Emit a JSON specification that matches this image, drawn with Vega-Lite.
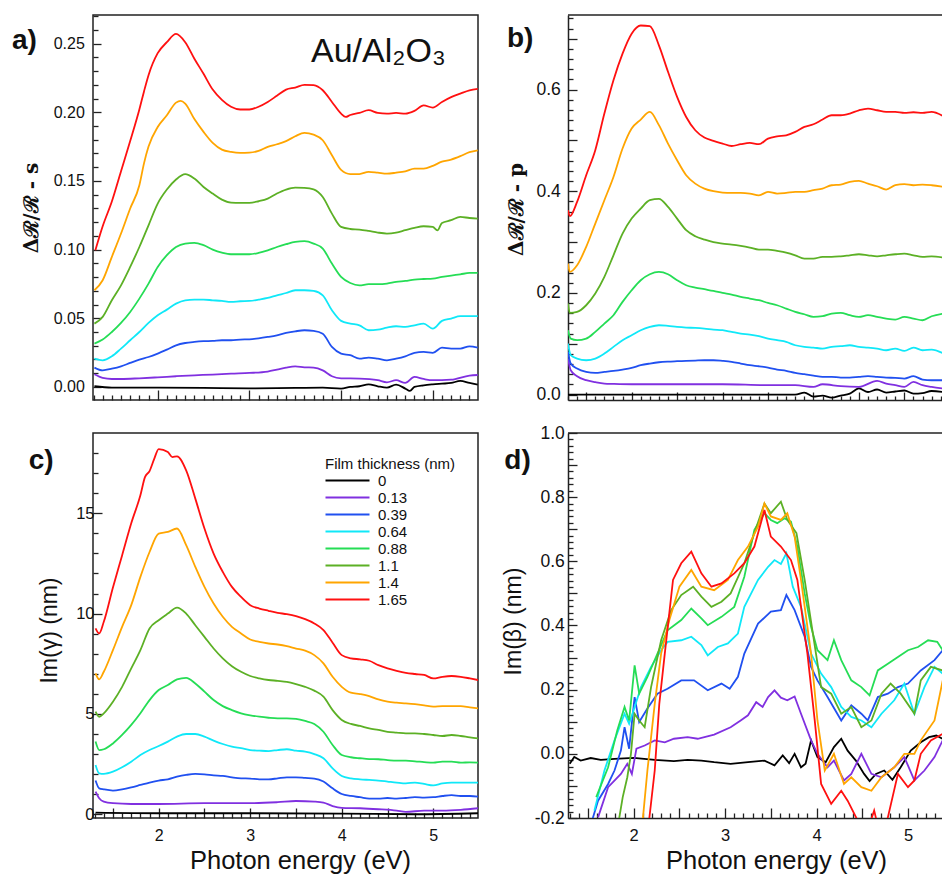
{
"$schema": "https://vega.github.io/schema/vega-lite/v6.json",
"padding": {"left": 11, "top": 14, "right": 0, "bottom": 0},
"config": {
  "font": "Liberation Sans",
  "view": {"stroke": "#222", "strokeWidth": 1.5},
  "axis": {"grid": false, "domain": false, "labelFont": "Liberation Sans", "titleFont": "Liberation Sans", "labelColor": "#111", "titleColor": "#111", "tickColor": "#222", "tickWidth": 1.3, "titleFontWeight": "normal", "labelOverlap": false, "labelFlush": false},
  "title": {"font": "Liberation Sans", "color": "#111"}
},
"datasets": {
"a": [
{"e":1.31,"t":"0","v":0.0005},{"e":1.5,"t":"0","v":-0.0005},{"e":2.0,"t":"0","v":-0.0005},{"e":2.5,"t":"0","v":-0.0007},{"e":3.0,"t":"0","v":-0.001},{"e":3.5,"t":"0","v":-0.0007},{"e":3.8,"t":"0","v":-0.0005},{"e":4.0,"t":"0","v":-0.0012},{"e":4.1,"t":"0","v":0},{"e":4.2,"t":"0","v":0.0005},{"e":4.3,"t":"0","v":0.0019},{"e":4.4,"t":"0","v":0.0005},{"e":4.5,"t":"0","v":-0.0005},{"e":4.6,"t":"0","v":0.0017},{"e":4.7,"t":"0","v":-0.0012},{"e":4.75,"t":"0","v":-0.0029},{"e":4.8,"t":"0","v":0},{"e":4.9,"t":"0","v":0.0012},{"e":5.0,"t":"0","v":0.0019},{"e":5.1,"t":"0","v":0.0024},{"e":5.2,"t":"0","v":0.0029},{"e":5.3,"t":"0","v":0.0044},{"e":5.4,"t":"0","v":0.0029},{"e":5.49,"t":"0","v":0.0017},
{"e":1.31,"t":"0.13","v":0.0092},{"e":1.4,"t":"0.13","v":0.0066},{"e":1.5,"t":"0.13","v":0.0058},{"e":1.6,"t":"0.13","v":0.0058},{"e":1.8,"t":"0.13","v":0.0063},{"e":2.0,"t":"0.13","v":0.007},{"e":2.2,"t":"0.13","v":0.0078},{"e":2.4,"t":"0.13","v":0.0085},{"e":2.6,"t":"0.13","v":0.009},{"e":2.8,"t":"0.13","v":0.0097},{"e":3.0,"t":"0.13","v":0.0102},{"e":3.2,"t":"0.13","v":0.0112},{"e":3.3,"t":"0.13","v":0.0126},{"e":3.4,"t":"0.13","v":0.0141},{"e":3.5,"t":"0.13","v":0.015},{"e":3.6,"t":"0.13","v":0.0143},{"e":3.7,"t":"0.13","v":0.0141},{"e":3.8,"t":"0.13","v":0.0121},{"e":3.9,"t":"0.13","v":0.0078},{"e":4.0,"t":"0.13","v":0.0063},{"e":4.2,"t":"0.13","v":0.0061},{"e":4.4,"t":"0.13","v":0.0049},{"e":4.5,"t":"0.13","v":0.0034},{"e":4.6,"t":"0.13","v":0.0049},{"e":4.7,"t":"0.13","v":0.0029},{"e":4.8,"t":"0.13","v":0.0073},{"e":4.9,"t":"0.13","v":0.0058},{"e":5.0,"t":"0.13","v":0.0049},{"e":5.2,"t":"0.13","v":0.0053},{"e":5.4,"t":"0.13","v":0.0083},{"e":5.49,"t":"0.13","v":0.0087},
{"e":1.31,"t":"0.39","v":0.0141},{"e":1.4,"t":"0.39","v":0.0121},{"e":1.5,"t":"0.39","v":0.0133},{"e":1.6,"t":"0.39","v":0.015},{"e":1.7,"t":"0.39","v":0.0175},{"e":1.8,"t":"0.39","v":0.0199},{"e":1.9,"t":"0.39","v":0.0218},{"e":2.0,"t":"0.39","v":0.0243},{"e":2.1,"t":"0.39","v":0.0272},{"e":2.2,"t":"0.39","v":0.0303},{"e":2.3,"t":"0.39","v":0.032},{"e":2.4,"t":"0.39","v":0.0328},{"e":2.5,"t":"0.39","v":0.0333},{"e":2.6,"t":"0.39","v":0.0335},{"e":2.7,"t":"0.39","v":0.034},{"e":2.8,"t":"0.39","v":0.034},{"e":2.9,"t":"0.39","v":0.0345},{"e":3.0,"t":"0.39","v":0.0347},{"e":3.1,"t":"0.39","v":0.0354},{"e":3.2,"t":"0.39","v":0.0364},{"e":3.3,"t":"0.39","v":0.0376},{"e":3.4,"t":"0.39","v":0.0393},{"e":3.5,"t":"0.39","v":0.0405},{"e":3.6,"t":"0.39","v":0.0413},{"e":3.7,"t":"0.39","v":0.0408},{"e":3.8,"t":"0.39","v":0.0388},{"e":3.9,"t":"0.39","v":0.0291},{"e":4.0,"t":"0.39","v":0.0243},{"e":4.1,"t":"0.39","v":0.0231},{"e":4.2,"t":"0.39","v":0.0206},{"e":4.3,"t":"0.39","v":0.0214},{"e":4.4,"t":"0.39","v":0.0206},{"e":4.5,"t":"0.39","v":0.0194},{"e":4.6,"t":"0.39","v":0.0206},{"e":4.7,"t":"0.39","v":0.0223},{"e":4.8,"t":"0.39","v":0.0248},{"e":4.9,"t":"0.39","v":0.0255},{"e":5.0,"t":"0.39","v":0.0248},{"e":5.1,"t":"0.39","v":0.0286},{"e":5.2,"t":"0.39","v":0.0279},{"e":5.3,"t":"0.39","v":0.0279},{"e":5.4,"t":"0.39","v":0.0296},{"e":5.49,"t":"0.39","v":0.0286},
{"e":1.31,"t":"0.64","v":0.0206},{"e":1.4,"t":"0.64","v":0.0194},{"e":1.5,"t":"0.64","v":0.0223},{"e":1.6,"t":"0.64","v":0.0279},{"e":1.7,"t":"0.64","v":0.034},{"e":1.8,"t":"0.64","v":0.04},{"e":1.9,"t":"0.64","v":0.0466},{"e":2.0,"t":"0.64","v":0.0522},{"e":2.1,"t":"0.64","v":0.0563},{"e":2.2,"t":"0.64","v":0.0607},{"e":2.3,"t":"0.64","v":0.0631},{"e":2.4,"t":"0.64","v":0.0636},{"e":2.5,"t":"0.64","v":0.0636},{"e":2.6,"t":"0.64","v":0.0631},{"e":2.7,"t":"0.64","v":0.0626},{"e":2.8,"t":"0.64","v":0.0619},{"e":2.9,"t":"0.64","v":0.0624},{"e":3.0,"t":"0.64","v":0.0626},{"e":3.1,"t":"0.64","v":0.0636},{"e":3.2,"t":"0.64","v":0.0648},{"e":3.3,"t":"0.64","v":0.0667},{"e":3.4,"t":"0.64","v":0.0684},{"e":3.5,"t":"0.64","v":0.0704},{"e":3.6,"t":"0.64","v":0.0704},{"e":3.7,"t":"0.64","v":0.0699},{"e":3.8,"t":"0.64","v":0.0667},{"e":3.9,"t":"0.64","v":0.0558},{"e":4.0,"t":"0.64","v":0.0481},{"e":4.1,"t":"0.64","v":0.0461},{"e":4.2,"t":"0.64","v":0.0449},{"e":4.3,"t":"0.64","v":0.0413},{"e":4.4,"t":"0.64","v":0.0417},{"e":4.5,"t":"0.64","v":0.0432},{"e":4.6,"t":"0.64","v":0.0442},{"e":4.7,"t":"0.64","v":0.0437},{"e":4.8,"t":"0.64","v":0.0449},{"e":4.9,"t":"0.64","v":0.0461},{"e":5.0,"t":"0.64","v":0.0425},{"e":5.1,"t":"0.64","v":0.0481},{"e":5.2,"t":"0.64","v":0.0498},{"e":5.3,"t":"0.64","v":0.0515},{"e":5.4,"t":"0.64","v":0.0515},{"e":5.49,"t":"0.64","v":0.0515},
{"e":1.31,"t":"0.88","v":0.0316},{"e":1.4,"t":"0.88","v":0.0345},{"e":1.5,"t":"0.88","v":0.04},{"e":1.6,"t":"0.88","v":0.0466},{"e":1.7,"t":"0.88","v":0.0546},{"e":1.8,"t":"0.88","v":0.0643},{"e":1.9,"t":"0.88","v":0.0752},{"e":2.0,"t":"0.88","v":0.0874},{"e":2.1,"t":"0.88","v":0.0959},{"e":2.2,"t":"0.88","v":0.1019},{"e":2.3,"t":"0.88","v":0.1044},{"e":2.4,"t":"0.88","v":0.1049},{"e":2.5,"t":"0.88","v":0.1032},{"e":2.6,"t":"0.88","v":0.1},{"e":2.7,"t":"0.88","v":0.0978},{"e":2.8,"t":"0.88","v":0.0966},{"e":2.9,"t":"0.88","v":0.0966},{"e":3.0,"t":"0.88","v":0.0966},{"e":3.1,"t":"0.88","v":0.0976},{"e":3.2,"t":"0.88","v":0.0995},{"e":3.3,"t":"0.88","v":0.1019},{"e":3.4,"t":"0.88","v":0.1039},{"e":3.5,"t":"0.88","v":0.1056},{"e":3.6,"t":"0.88","v":0.1061},{"e":3.7,"t":"0.88","v":0.1044},{"e":3.8,"t":"0.88","v":0.1007},{"e":3.9,"t":"0.88","v":0.0898},{"e":4.0,"t":"0.88","v":0.0801},{"e":4.1,"t":"0.88","v":0.0757},{"e":4.2,"t":"0.88","v":0.074},{"e":4.3,"t":"0.88","v":0.0748},{"e":4.4,"t":"0.88","v":0.0748},{"e":4.5,"t":"0.88","v":0.0752},{"e":4.6,"t":"0.88","v":0.0765},{"e":4.7,"t":"0.88","v":0.0772},{"e":4.8,"t":"0.88","v":0.0782},{"e":4.9,"t":"0.88","v":0.0786},{"e":5.0,"t":"0.88","v":0.0789},{"e":5.1,"t":"0.88","v":0.0801},{"e":5.2,"t":"0.88","v":0.0811},{"e":5.3,"t":"0.88","v":0.082},{"e":5.4,"t":"0.88","v":0.083},{"e":5.49,"t":"0.88","v":0.083},
{"e":1.31,"t":"1.1","v":0.0461},{"e":1.4,"t":"1.1","v":0.051},{"e":1.5,"t":"1.1","v":0.0631},{"e":1.6,"t":"1.1","v":0.074},{"e":1.7,"t":"1.1","v":0.0874},{"e":1.8,"t":"1.1","v":0.1019},{"e":1.9,"t":"1.1","v":0.1177},{"e":2.0,"t":"1.1","v":0.1335},{"e":2.1,"t":"1.1","v":0.1437},{"e":2.2,"t":"1.1","v":0.151},{"e":2.3,"t":"1.1","v":0.1549},{"e":2.4,"t":"1.1","v":0.1517},{"e":2.5,"t":"1.1","v":0.1456},{"e":2.6,"t":"1.1","v":0.1408},{"e":2.7,"t":"1.1","v":0.1364},{"e":2.8,"t":"1.1","v":0.1342},{"e":2.9,"t":"1.1","v":0.134},{"e":3.0,"t":"1.1","v":0.134},{"e":3.1,"t":"1.1","v":0.1352},{"e":3.2,"t":"1.1","v":0.1371},{"e":3.3,"t":"1.1","v":0.1408},{"e":3.4,"t":"1.1","v":0.1437},{"e":3.5,"t":"1.1","v":0.1451},{"e":3.6,"t":"1.1","v":0.1449},{"e":3.7,"t":"1.1","v":0.1439},{"e":3.8,"t":"1.1","v":0.1383},{"e":3.9,"t":"1.1","v":0.1262},{"e":4.0,"t":"1.1","v":0.1165},{"e":4.1,"t":"1.1","v":0.115},{"e":4.2,"t":"1.1","v":0.1146},{"e":4.3,"t":"1.1","v":0.1136},{"e":4.4,"t":"1.1","v":0.1124},{"e":4.5,"t":"1.1","v":0.1117},{"e":4.6,"t":"1.1","v":0.1124},{"e":4.7,"t":"1.1","v":0.1141},{"e":4.8,"t":"1.1","v":0.1158},{"e":4.9,"t":"1.1","v":0.117},{"e":5.0,"t":"1.1","v":0.1165},{"e":5.05,"t":"1.1","v":0.114},{"e":5.1,"t":"1.1","v":0.1194},{"e":5.2,"t":"1.1","v":0.1214},{"e":5.3,"t":"1.1","v":0.1238},{"e":5.4,"t":"1.1","v":0.123},{"e":5.49,"t":"1.1","v":0.1226},
{"e":1.31,"t":"1.4","v":0.0704},{"e":1.4,"t":"1.4","v":0.0777},{"e":1.5,"t":"1.4","v":0.0947},{"e":1.6,"t":"1.4","v":0.1117},{"e":1.7,"t":"1.4","v":0.1299},{"e":1.8,"t":"1.4","v":0.1468},{"e":1.85,"t":"1.4","v":0.1626},{"e":1.9,"t":"1.4","v":0.175},{"e":2.0,"t":"1.4","v":0.1893},{"e":2.1,"t":"1.4","v":0.1978},{"e":2.2,"t":"1.4","v":0.207},{"e":2.25,"t":"1.4","v":0.2083},{"e":2.3,"t":"1.4","v":0.2063},{"e":2.4,"t":"1.4","v":0.195},{"e":2.5,"t":"1.4","v":0.1857},{"e":2.6,"t":"1.4","v":0.1777},{"e":2.7,"t":"1.4","v":0.1728},{"e":2.8,"t":"1.4","v":0.1711},{"e":2.9,"t":"1.4","v":0.1704},{"e":3.0,"t":"1.4","v":0.1706},{"e":3.1,"t":"1.4","v":0.1718},{"e":3.2,"t":"1.4","v":0.1748},{"e":3.3,"t":"1.4","v":0.1767},{"e":3.4,"t":"1.4","v":0.179},{"e":3.5,"t":"1.4","v":0.1825},{"e":3.6,"t":"1.4","v":0.185},{"e":3.7,"t":"1.4","v":0.1837},{"e":3.8,"t":"1.4","v":0.1796},{"e":3.9,"t":"1.4","v":0.1687},{"e":4.0,"t":"1.4","v":0.158},{"e":4.1,"t":"1.4","v":0.155},{"e":4.2,"t":"1.4","v":0.155},{"e":4.3,"t":"1.4","v":0.1566},{"e":4.4,"t":"1.4","v":0.156},{"e":4.5,"t":"1.4","v":0.1553},{"e":4.6,"t":"1.4","v":0.156},{"e":4.7,"t":"1.4","v":0.157},{"e":4.8,"t":"1.4","v":0.159},{"e":4.9,"t":"1.4","v":0.159},{"e":5.0,"t":"1.4","v":0.161},{"e":5.1,"t":"1.4","v":0.164},{"e":5.2,"t":"1.4","v":0.1655},{"e":5.3,"t":"1.4","v":0.168},{"e":5.4,"t":"1.4","v":0.171},{"e":5.49,"t":"1.4","v":0.1723},
{"e":1.32,"t":"1.65","v":0.0995},{"e":1.4,"t":"1.65","v":0.117},{"e":1.5,"t":"1.65","v":0.135},{"e":1.6,"t":"1.65","v":0.157},{"e":1.7,"t":"1.65","v":0.179},{"e":1.8,"t":"1.65","v":0.202},{"e":1.85,"t":"1.65","v":0.215},{"e":1.9,"t":"1.65","v":0.227},{"e":2.0,"t":"1.65","v":0.243},{"e":2.1,"t":"1.65","v":0.251},{"e":2.2,"t":"1.65","v":0.257},{"e":2.3,"t":"1.65","v":0.251},{"e":2.4,"t":"1.65","v":0.239},{"e":2.5,"t":"1.65","v":0.228},{"e":2.6,"t":"1.65","v":0.2165},{"e":2.7,"t":"1.65","v":0.209},{"e":2.8,"t":"1.65","v":0.204},{"e":2.9,"t":"1.65","v":0.202},{"e":3.0,"t":"1.65","v":0.202},{"e":3.1,"t":"1.65","v":0.204},{"e":3.2,"t":"1.65","v":0.2075},{"e":3.3,"t":"1.65","v":0.212},{"e":3.4,"t":"1.65","v":0.2165},{"e":3.5,"t":"1.65","v":0.218},{"e":3.6,"t":"1.65","v":0.22},{"e":3.7,"t":"1.65","v":0.2197},{"e":3.8,"t":"1.65","v":0.216},{"e":3.9,"t":"1.65","v":0.2075},{"e":4.0,"t":"1.65","v":0.199},{"e":4.05,"t":"1.65","v":0.1966},{"e":4.1,"t":"1.65","v":0.198},{"e":4.2,"t":"1.65","v":0.1995},{"e":4.3,"t":"1.65","v":0.2015},{"e":4.4,"t":"1.65","v":0.1995},{"e":4.5,"t":"1.65","v":0.199},{"e":4.6,"t":"1.65","v":0.1995},{"e":4.7,"t":"1.65","v":0.199},{"e":4.8,"t":"1.65","v":0.201},{"e":4.9,"t":"1.65","v":0.205},{"e":5.0,"t":"1.65","v":0.2034},{"e":5.1,"t":"1.65","v":0.2075},{"e":5.2,"t":"1.65","v":0.211},{"e":5.3,"t":"1.65","v":0.2136},{"e":5.4,"t":"1.65","v":0.216},{"e":5.49,"t":"1.65","v":0.217}
],
"b": [
{"e":1.3,"t":"0","v":0.0},{"e":2.0,"t":"0","v":0.0},{"e":3.0,"t":"0","v":0.0},{"e":3.8,"t":"0","v":0.0},{"e":3.9,"t":"0","v":0.004},{"e":4.0,"t":"0","v":-0.004},{"e":4.1,"t":"0","v":-0.002},{"e":4.2,"t":"0","v":-0.006},{"e":4.3,"t":"0","v":-0.002},{"e":4.4,"t":"0","v":0.002},{"e":4.5,"t":"0","v":0.012},{"e":4.6,"t":"0","v":0.005},{"e":4.7,"t":"0","v":0.01},{"e":4.8,"t":"0","v":0.004},{"e":4.9,"t":"0","v":0.006},{"e":5.0,"t":"0","v":0.008},{"e":5.1,"t":"0","v":0.002},{"e":5.2,"t":"0","v":0.003},{"e":5.3,"t":"0","v":0.007},{"e":5.43,"t":"0","v":0.005},
{"e":1.3,"t":"0.13","v":0.0708},{"e":1.33,"t":"0.13","v":0.0479},{"e":1.4,"t":"0.13","v":0.0361},{"e":1.5,"t":"0.13","v":0.0282},{"e":1.6,"t":"0.13","v":0.0243},{"e":1.7,"t":"0.13","v":0.0216},{"e":1.8,"t":"0.13","v":0.021},{"e":2.0,"t":"0.13","v":0.0203},{"e":2.5,"t":"0.13","v":0.0203},{"e":3.0,"t":"0.13","v":0.0203},{"e":3.5,"t":"0.13","v":0.0184},{"e":3.8,"t":"0.13","v":0.0184},{"e":4.0,"t":"0.13","v":0.0151},{"e":4.1,"t":"0.13","v":0.0203},{"e":4.3,"t":"0.13","v":0.0164},{"e":4.5,"t":"0.13","v":0.0151},{"e":4.7,"t":"0.13","v":0.0269},{"e":4.8,"t":"0.13","v":0.0216},{"e":4.9,"t":"0.13","v":0.0184},{"e":5.0,"t":"0.13","v":0.0151},{"e":5.1,"t":"0.13","v":0.0249},{"e":5.2,"t":"0.13","v":0.0184},{"e":5.3,"t":"0.13","v":0.0151},{"e":5.43,"t":"0.13","v":0.0118},
{"e":1.3,"t":"0.39","v":0.0839},{"e":1.33,"t":"0.39","v":0.061},{"e":1.4,"t":"0.39","v":0.0511},{"e":1.5,"t":"0.39","v":0.0446},{"e":1.6,"t":"0.39","v":0.0426},{"e":1.7,"t":"0.39","v":0.0446},{"e":1.8,"t":"0.39","v":0.0466},{"e":1.9,"t":"0.39","v":0.0492},{"e":2.0,"t":"0.39","v":0.0525},{"e":2.1,"t":"0.39","v":0.0577},{"e":2.2,"t":"0.39","v":0.061},{"e":2.3,"t":"0.39","v":0.0636},{"e":2.4,"t":"0.39","v":0.0649},{"e":2.5,"t":"0.39","v":0.0656},{"e":2.6,"t":"0.39","v":0.0662},{"e":2.7,"t":"0.39","v":0.0669},{"e":2.8,"t":"0.39","v":0.0675},{"e":2.9,"t":"0.39","v":0.0675},{"e":3.0,"t":"0.39","v":0.0662},{"e":3.1,"t":"0.39","v":0.0643},{"e":3.2,"t":"0.39","v":0.061},{"e":3.3,"t":"0.39","v":0.0577},{"e":3.4,"t":"0.39","v":0.0557},{"e":3.5,"t":"0.39","v":0.0531},{"e":3.6,"t":"0.39","v":0.0492},{"e":3.7,"t":"0.39","v":0.0466},{"e":3.8,"t":"0.39","v":0.0426},{"e":3.9,"t":"0.39","v":0.04},{"e":4.0,"t":"0.39","v":0.0374},{"e":4.1,"t":"0.39","v":0.0348},{"e":4.2,"t":"0.39","v":0.0348},{"e":4.3,"t":"0.39","v":0.0334},{"e":4.4,"t":"0.39","v":0.0334},{"e":4.5,"t":"0.39","v":0.0348},{"e":4.6,"t":"0.39","v":0.0361},{"e":4.7,"t":"0.39","v":0.0348},{"e":4.8,"t":"0.39","v":0.0334},{"e":4.9,"t":"0.39","v":0.0328},{"e":5.0,"t":"0.39","v":0.0315},{"e":5.1,"t":"0.39","v":0.0361},{"e":5.2,"t":"0.39","v":0.0295},{"e":5.3,"t":"0.39","v":0.0282},{"e":5.43,"t":"0.39","v":0.0282},
{"e":1.3,"t":"0.64","v":0.1003},{"e":1.33,"t":"0.64","v":0.0774},{"e":1.4,"t":"0.64","v":0.0708},{"e":1.5,"t":"0.64","v":0.0675},{"e":1.6,"t":"0.64","v":0.0708},{"e":1.7,"t":"0.64","v":0.0807},{"e":1.8,"t":"0.64","v":0.0938},{"e":1.9,"t":"0.64","v":0.1069},{"e":2.0,"t":"0.64","v":0.1167},{"e":2.1,"t":"0.64","v":0.1266},{"e":2.2,"t":"0.64","v":0.1331},{"e":2.3,"t":"0.64","v":0.1364},{"e":2.4,"t":"0.64","v":0.1351},{"e":2.5,"t":"0.64","v":0.1331},{"e":2.6,"t":"0.64","v":0.1318},{"e":2.7,"t":"0.64","v":0.1311},{"e":2.8,"t":"0.64","v":0.1298},{"e":2.9,"t":"0.64","v":0.1279},{"e":3.0,"t":"0.64","v":0.1266},{"e":3.1,"t":"0.64","v":0.1233},{"e":3.2,"t":"0.64","v":0.12},{"e":3.3,"t":"0.64","v":0.118},{"e":3.4,"t":"0.64","v":0.1148},{"e":3.5,"t":"0.64","v":0.1102},{"e":3.6,"t":"0.64","v":0.1069},{"e":3.7,"t":"0.64","v":0.1036},{"e":3.8,"t":"0.64","v":0.097},{"e":3.9,"t":"0.64","v":0.0938},{"e":4.0,"t":"0.64","v":0.0925},{"e":4.1,"t":"0.64","v":0.0905},{"e":4.2,"t":"0.64","v":0.0938},{"e":4.3,"t":"0.64","v":0.0951},{"e":4.4,"t":"0.64","v":0.097},{"e":4.5,"t":"0.64","v":0.0938},{"e":4.6,"t":"0.64","v":0.0925},{"e":4.7,"t":"0.64","v":0.0905},{"e":4.8,"t":"0.64","v":0.0872},{"e":4.9,"t":"0.64","v":0.0905},{"e":5.0,"t":"0.64","v":0.0859},{"e":5.1,"t":"0.64","v":0.0925},{"e":5.2,"t":"0.64","v":0.0872},{"e":5.3,"t":"0.64","v":0.0885},{"e":5.43,"t":"0.64","v":0.0807},
{"e":1.3,"t":"0.88","v":0.1266},{"e":1.33,"t":"0.88","v":0.11},{"e":1.4,"t":"0.88","v":0.1069},{"e":1.5,"t":"0.88","v":0.11},{"e":1.6,"t":"0.88","v":0.1233},{"e":1.7,"t":"0.88","v":0.1397},{"e":1.8,"t":"0.88","v":0.1561},{"e":1.9,"t":"0.88","v":0.1823},{"e":2.0,"t":"0.88","v":0.2052},{"e":2.1,"t":"0.88","v":0.2249},{"e":2.2,"t":"0.88","v":0.2367},{"e":2.3,"t":"0.88","v":0.2413},{"e":2.4,"t":"0.88","v":0.2367},{"e":2.5,"t":"0.88","v":0.2249},{"e":2.6,"t":"0.88","v":0.215},{"e":2.7,"t":"0.88","v":0.2105},{"e":2.8,"t":"0.88","v":0.2072},{"e":2.9,"t":"0.88","v":0.2039},{"e":3.0,"t":"0.88","v":0.2},{"e":3.1,"t":"0.88","v":0.1967},{"e":3.2,"t":"0.88","v":0.1921},{"e":3.3,"t":"0.88","v":0.1889},{"e":3.4,"t":"0.88","v":0.1856},{"e":3.5,"t":"0.88","v":0.1803},{"e":3.6,"t":"0.88","v":0.1757},{"e":3.7,"t":"0.88","v":0.1692},{"e":3.8,"t":"0.88","v":0.1626},{"e":3.9,"t":"0.88","v":0.158},{"e":4.0,"t":"0.88","v":0.1528},{"e":4.1,"t":"0.88","v":0.1541},{"e":4.2,"t":"0.88","v":0.1593},{"e":4.3,"t":"0.88","v":0.1607},{"e":4.4,"t":"0.88","v":0.1561},{"e":4.5,"t":"0.88","v":0.1528},{"e":4.6,"t":"0.88","v":0.1561},{"e":4.7,"t":"0.88","v":0.1528},{"e":4.8,"t":"0.88","v":0.1495},{"e":4.9,"t":"0.88","v":0.1475},{"e":5.0,"t":"0.88","v":0.1528},{"e":5.1,"t":"0.88","v":0.1495},{"e":5.2,"t":"0.88","v":0.1462},{"e":5.3,"t":"0.88","v":0.1541},{"e":5.43,"t":"0.88","v":0.1593},
{"e":1.3,"t":"1.1","v":0.179},{"e":1.32,"t":"1.1","v":0.1607},{"e":1.4,"t":"1.1","v":0.1626},{"e":1.5,"t":"1.1","v":0.1757},{"e":1.6,"t":"1.1","v":0.1987},{"e":1.7,"t":"1.1","v":0.2315},{"e":1.8,"t":"1.1","v":0.274},{"e":1.9,"t":"1.1","v":0.3167},{"e":2.0,"t":"1.1","v":0.3462},{"e":2.1,"t":"1.1","v":0.3659},{"e":2.2,"t":"1.1","v":0.3823},{"e":2.3,"t":"1.1","v":0.385},{"e":2.4,"t":"1.1","v":0.3692},{"e":2.5,"t":"1.1","v":0.3462},{"e":2.6,"t":"1.1","v":0.3233},{"e":2.7,"t":"1.1","v":0.3115},{"e":2.8,"t":"1.1","v":0.305},{"e":2.9,"t":"1.1","v":0.2997},{"e":3.0,"t":"1.1","v":0.297},{"e":3.1,"t":"1.1","v":0.2951},{"e":3.2,"t":"1.1","v":0.2925},{"e":3.3,"t":"1.1","v":0.2892},{"e":3.4,"t":"1.1","v":0.2852},{"e":3.5,"t":"1.1","v":0.2852},{"e":3.6,"t":"1.1","v":0.2826},{"e":3.7,"t":"1.1","v":0.2793},{"e":3.8,"t":"1.1","v":0.274},{"e":3.9,"t":"1.1","v":0.2675},{"e":4.0,"t":"1.1","v":0.2675},{"e":4.1,"t":"1.1","v":0.2708},{"e":4.2,"t":"1.1","v":0.2708},{"e":4.3,"t":"1.1","v":0.272},{"e":4.4,"t":"1.1","v":0.274},{"e":4.5,"t":"1.1","v":0.276},{"e":4.6,"t":"1.1","v":0.274},{"e":4.7,"t":"1.1","v":0.272},{"e":4.8,"t":"1.1","v":0.274},{"e":4.9,"t":"1.1","v":0.276},{"e":5.0,"t":"1.1","v":0.2774},{"e":5.1,"t":"1.1","v":0.274},{"e":5.2,"t":"1.1","v":0.2708},{"e":5.3,"t":"1.1","v":0.272},{"e":5.43,"t":"1.1","v":0.2695},
{"e":1.3,"t":"1.4","v":0.2577},{"e":1.32,"t":"1.4","v":0.2413},{"e":1.4,"t":"1.4","v":0.2544},{"e":1.5,"t":"1.4","v":0.2905},{"e":1.6,"t":"1.4","v":0.3364},{"e":1.7,"t":"1.4","v":0.3823},{"e":1.8,"t":"1.4","v":0.428},{"e":1.9,"t":"1.4","v":0.484},{"e":2.0,"t":"1.4","v":0.5233},{"e":2.1,"t":"1.4","v":0.541},{"e":2.2,"t":"1.4","v":0.556},{"e":2.3,"t":"1.4","v":0.53},{"e":2.4,"t":"1.4","v":0.4938},{"e":2.5,"t":"1.4","v":0.461},{"e":2.6,"t":"1.4","v":0.4315},{"e":2.7,"t":"1.4","v":0.415},{"e":2.8,"t":"1.4","v":0.4052},{"e":2.9,"t":"1.4","v":0.4},{"e":3.0,"t":"1.4","v":0.3974},{"e":3.1,"t":"1.4","v":0.3967},{"e":3.2,"t":"1.4","v":0.3967},{"e":3.3,"t":"1.4","v":0.3954},{"e":3.4,"t":"1.4","v":0.392},{"e":3.5,"t":"1.4","v":0.3987},{"e":3.6,"t":"1.4","v":0.3954},{"e":3.7,"t":"1.4","v":0.3967},{"e":3.8,"t":"1.4","v":0.3987},{"e":3.9,"t":"1.4","v":0.3987},{"e":4.0,"t":"1.4","v":0.402},{"e":4.1,"t":"1.4","v":0.4052},{"e":4.2,"t":"1.4","v":0.4118},{"e":4.3,"t":"1.4","v":0.413},{"e":4.4,"t":"1.4","v":0.4184},{"e":4.5,"t":"1.4","v":0.4203},{"e":4.6,"t":"1.4","v":0.415},{"e":4.7,"t":"1.4","v":0.4098},{"e":4.8,"t":"1.4","v":0.4033},{"e":4.9,"t":"1.4","v":0.4118},{"e":5.0,"t":"1.4","v":0.4138},{"e":5.1,"t":"1.4","v":0.4118},{"e":5.2,"t":"1.4","v":0.413},{"e":5.3,"t":"1.4","v":0.4118},{"e":5.43,"t":"1.4","v":0.4085},
{"e":1.3,"t":"1.65","v":0.3626},{"e":1.32,"t":"1.65","v":0.351},{"e":1.4,"t":"1.65","v":0.379},{"e":1.5,"t":"1.65","v":0.4315},{"e":1.6,"t":"1.65","v":0.4807},{"e":1.7,"t":"1.65","v":0.5528},{"e":1.8,"t":"1.65","v":0.6184},{"e":1.9,"t":"1.65","v":0.6708},{"e":2.0,"t":"1.65","v":0.71},{"e":2.1,"t":"1.65","v":0.726},{"e":2.2,"t":"1.65","v":0.7246},{"e":2.3,"t":"1.65","v":0.687},{"e":2.4,"t":"1.65","v":0.635},{"e":2.5,"t":"1.65","v":0.5856},{"e":2.6,"t":"1.65","v":0.546},{"e":2.7,"t":"1.65","v":0.52},{"e":2.8,"t":"1.65","v":0.5056},{"e":2.9,"t":"1.65","v":0.499},{"e":3.0,"t":"1.65","v":0.4938},{"e":3.1,"t":"1.65","v":0.489},{"e":3.2,"t":"1.65","v":0.4925},{"e":3.3,"t":"1.65","v":0.495},{"e":3.4,"t":"1.65","v":0.4925},{"e":3.5,"t":"1.65","v":0.5036},{"e":3.6,"t":"1.65","v":0.508},{"e":3.7,"t":"1.65","v":0.51},{"e":3.8,"t":"1.65","v":0.5167},{"e":3.9,"t":"1.65","v":0.5266},{"e":4.0,"t":"1.65","v":0.5318},{"e":4.1,"t":"1.65","v":0.541},{"e":4.2,"t":"1.65","v":0.5495},{"e":4.3,"t":"1.65","v":0.5495},{"e":4.4,"t":"1.65","v":0.5528},{"e":4.5,"t":"1.65","v":0.5593},{"e":4.6,"t":"1.65","v":0.5626},{"e":4.7,"t":"1.65","v":0.5593},{"e":4.8,"t":"1.65","v":0.556},{"e":4.9,"t":"1.65","v":0.556},{"e":5.0,"t":"1.65","v":0.554},{"e":5.1,"t":"1.65","v":0.5554},{"e":5.2,"t":"1.65","v":0.554},{"e":5.3,"t":"1.65","v":0.556},{"e":5.43,"t":"1.65","v":0.5475}
],
"c": [
{"e":1.31,"t":"0","v":0.08},{"e":2.0,"t":"0","v":0.05},{"e":3.0,"t":"0","v":0.05},{"e":4.0,"t":"0","v":0.03},{"e":4.8,"t":"0","v":0.0},{"e":5.49,"t":"0","v":0.05},
{"e":1.31,"t":"0.13","v":1.13},{"e":1.35,"t":"0.13","v":0.8},{"e":1.4,"t":"0.13","v":0.63},{"e":1.5,"t":"0.13","v":0.55},{"e":1.7,"t":"0.13","v":0.51},{"e":2.0,"t":"0.13","v":0.51},{"e":2.5,"t":"0.13","v":0.55},{"e":3.0,"t":"0.13","v":0.55},{"e":3.3,"t":"0.13","v":0.6},{"e":3.5,"t":"0.13","v":0.66},{"e":3.7,"t":"0.13","v":0.63},{"e":3.8,"t":"0.13","v":0.58},{"e":3.9,"t":"0.13","v":0.41},{"e":4.0,"t":"0.13","v":0.32},{"e":4.2,"t":"0.13","v":0.3},{"e":4.4,"t":"0.13","v":0.25},{"e":4.6,"t":"0.13","v":0.18},{"e":4.7,"t":"0.13","v":0.12},{"e":4.9,"t":"0.13","v":0.18},{"e":5.1,"t":"0.13","v":0.18},{"e":5.3,"t":"0.13","v":0.22},{"e":5.49,"t":"0.13","v":0.3},
{"e":1.31,"t":"0.39","v":1.68},{"e":1.35,"t":"0.39","v":1.29},{"e":1.4,"t":"0.39","v":1.24},{"e":1.5,"t":"0.39","v":1.18},{"e":1.6,"t":"0.39","v":1.24},{"e":1.7,"t":"0.39","v":1.34},{"e":1.8,"t":"0.39","v":1.46},{"e":1.9,"t":"0.39","v":1.58},{"e":2.0,"t":"0.39","v":1.68},{"e":2.1,"t":"0.39","v":1.74},{"e":2.2,"t":"0.39","v":1.87},{"e":2.3,"t":"0.39","v":1.96},{"e":2.4,"t":"0.39","v":2.01},{"e":2.5,"t":"0.39","v":1.99},{"e":2.6,"t":"0.39","v":1.94},{"e":2.7,"t":"0.39","v":1.91},{"e":2.8,"t":"0.39","v":1.84},{"e":2.9,"t":"0.39","v":1.79},{"e":3.0,"t":"0.39","v":1.78},{"e":3.1,"t":"0.39","v":1.74},{"e":3.2,"t":"0.39","v":1.74},{"e":3.3,"t":"0.39","v":1.79},{"e":3.4,"t":"0.39","v":1.84},{"e":3.5,"t":"0.39","v":1.84},{"e":3.6,"t":"0.39","v":1.81},{"e":3.7,"t":"0.39","v":1.78},{"e":3.8,"t":"0.39","v":1.63},{"e":3.9,"t":"0.39","v":1.29},{"e":4.0,"t":"0.39","v":1.01},{"e":4.1,"t":"0.39","v":0.91},{"e":4.2,"t":"0.39","v":0.85},{"e":4.3,"t":"0.39","v":0.78},{"e":4.4,"t":"0.39","v":0.78},{"e":4.5,"t":"0.39","v":0.81},{"e":4.6,"t":"0.39","v":0.78},{"e":4.7,"t":"0.39","v":0.81},{"e":4.8,"t":"0.39","v":0.85},{"e":4.9,"t":"0.39","v":0.83},{"e":5.0,"t":"0.39","v":0.85},{"e":5.1,"t":"0.39","v":0.91},{"e":5.2,"t":"0.39","v":0.95},{"e":5.3,"t":"0.39","v":0.91},{"e":5.4,"t":"0.39","v":0.91},{"e":5.49,"t":"0.39","v":0.88},
{"e":1.31,"t":"0.64","v":2.46},{"e":1.35,"t":"0.64","v":2.04},{"e":1.4,"t":"0.64","v":2.01},{"e":1.5,"t":"0.64","v":2.12},{"e":1.6,"t":"0.64","v":2.34},{"e":1.7,"t":"0.64","v":2.62},{"e":1.8,"t":"0.64","v":2.95},{"e":1.9,"t":"0.64","v":3.2},{"e":2.0,"t":"0.64","v":3.4},{"e":2.1,"t":"0.64","v":3.62},{"e":2.2,"t":"0.64","v":3.87},{"e":2.3,"t":"0.64","v":4.0},{"e":2.4,"t":"0.64","v":4.0},{"e":2.5,"t":"0.64","v":3.87},{"e":2.6,"t":"0.64","v":3.67},{"e":2.7,"t":"0.64","v":3.5},{"e":2.8,"t":"0.64","v":3.37},{"e":2.9,"t":"0.64","v":3.29},{"e":3.0,"t":"0.64","v":3.2},{"e":3.1,"t":"0.64","v":3.17},{"e":3.2,"t":"0.64","v":3.15},{"e":3.3,"t":"0.64","v":3.2},{"e":3.4,"t":"0.64","v":3.24},{"e":3.5,"t":"0.64","v":3.17},{"e":3.6,"t":"0.64","v":3.12},{"e":3.7,"t":"0.64","v":3.0},{"e":3.8,"t":"0.64","v":2.79},{"e":3.9,"t":"0.64","v":2.29},{"e":4.0,"t":"0.64","v":1.91},{"e":4.1,"t":"0.64","v":1.79},{"e":4.2,"t":"0.64","v":1.74},{"e":4.3,"t":"0.64","v":1.71},{"e":4.4,"t":"0.64","v":1.68},{"e":4.5,"t":"0.64","v":1.63},{"e":4.6,"t":"0.64","v":1.58},{"e":4.7,"t":"0.64","v":1.54},{"e":4.8,"t":"0.64","v":1.58},{"e":4.9,"t":"0.64","v":1.51},{"e":5.0,"t":"0.64","v":1.44},{"e":5.1,"t":"0.64","v":1.54},{"e":5.2,"t":"0.64","v":1.58},{"e":5.3,"t":"0.64","v":1.58},{"e":5.4,"t":"0.64","v":1.58},{"e":5.49,"t":"0.64","v":1.58},
{"e":1.31,"t":"0.88","v":3.62},{"e":1.35,"t":"0.88","v":3.2},{"e":1.4,"t":"0.88","v":3.24},{"e":1.5,"t":"0.88","v":3.53},{"e":1.6,"t":"0.88","v":3.95},{"e":1.7,"t":"0.88","v":4.45},{"e":1.8,"t":"0.88","v":5.03},{"e":1.9,"t":"0.88","v":5.69},{"e":2.0,"t":"0.88","v":6.19},{"e":2.1,"t":"0.88","v":6.44},{"e":2.2,"t":"0.88","v":6.72},{"e":2.3,"t":"0.88","v":6.8},{"e":2.4,"t":"0.88","v":6.52},{"e":2.5,"t":"0.88","v":6.11},{"e":2.6,"t":"0.88","v":5.69},{"e":2.7,"t":"0.88","v":5.39},{"e":2.8,"t":"0.88","v":5.19},{"e":2.9,"t":"0.88","v":5.03},{"e":3.0,"t":"0.88","v":4.93},{"e":3.1,"t":"0.88","v":4.86},{"e":3.2,"t":"0.88","v":4.81},{"e":3.3,"t":"0.88","v":4.78},{"e":3.4,"t":"0.88","v":4.78},{"e":3.5,"t":"0.88","v":4.75},{"e":3.6,"t":"0.88","v":4.65},{"e":3.7,"t":"0.88","v":4.5},{"e":3.8,"t":"0.88","v":4.11},{"e":3.9,"t":"0.88","v":3.45},{"e":4.0,"t":"0.88","v":2.95},{"e":4.1,"t":"0.88","v":2.84},{"e":4.2,"t":"0.88","v":2.79},{"e":4.3,"t":"0.88","v":2.75},{"e":4.4,"t":"0.88","v":2.74},{"e":4.5,"t":"0.88","v":2.7},{"e":4.6,"t":"0.88","v":2.67},{"e":4.7,"t":"0.88","v":2.67},{"e":4.8,"t":"0.88","v":2.64},{"e":4.9,"t":"0.88","v":2.6},{"e":5.0,"t":"0.88","v":2.57},{"e":5.1,"t":"0.88","v":2.62},{"e":5.2,"t":"0.88","v":2.62},{"e":5.3,"t":"0.88","v":2.57},{"e":5.4,"t":"0.88","v":2.59},{"e":5.49,"t":"0.88","v":2.57},
{"e":1.31,"t":"1.1","v":5.11},{"e":1.35,"t":"1.1","v":4.86},{"e":1.4,"t":"1.1","v":5.03},{"e":1.5,"t":"1.1","v":5.61},{"e":1.6,"t":"1.1","v":6.35},{"e":1.7,"t":"1.1","v":7.27},{"e":1.8,"t":"1.1","v":8.18},{"e":1.9,"t":"1.1","v":9.26},{"e":2.0,"t":"1.1","v":9.67},{"e":2.1,"t":"1.1","v":10.0},{"e":2.2,"t":"1.1","v":10.3},{"e":2.3,"t":"1.1","v":10.0},{"e":2.4,"t":"1.1","v":9.42},{"e":2.5,"t":"1.1","v":8.84},{"e":2.6,"t":"1.1","v":8.26},{"e":2.7,"t":"1.1","v":7.77},{"e":2.8,"t":"1.1","v":7.38},{"e":2.9,"t":"1.1","v":7.1},{"e":3.0,"t":"1.1","v":6.89},{"e":3.1,"t":"1.1","v":6.77},{"e":3.2,"t":"1.1","v":6.69},{"e":3.3,"t":"1.1","v":6.65},{"e":3.4,"t":"1.1","v":6.6},{"e":3.5,"t":"1.1","v":6.49},{"e":3.6,"t":"1.1","v":6.35},{"e":3.7,"t":"1.1","v":6.16},{"e":3.8,"t":"1.1","v":5.86},{"e":3.9,"t":"1.1","v":5.19},{"e":4.0,"t":"1.1","v":4.7},{"e":4.1,"t":"1.1","v":4.5},{"e":4.2,"t":"1.1","v":4.4},{"e":4.3,"t":"1.1","v":4.28},{"e":4.4,"t":"1.1","v":4.2},{"e":4.5,"t":"1.1","v":4.11},{"e":4.6,"t":"1.1","v":4.07},{"e":4.7,"t":"1.1","v":4.03},{"e":4.8,"t":"1.1","v":4.03},{"e":4.9,"t":"1.1","v":4.0},{"e":5.0,"t":"1.1","v":3.95},{"e":5.1,"t":"1.1","v":3.9},{"e":5.2,"t":"1.1","v":3.95},{"e":5.3,"t":"1.1","v":3.9},{"e":5.4,"t":"1.1","v":3.83},{"e":5.49,"t":"1.1","v":3.78},
{"e":1.31,"t":"1.4","v":7.02},{"e":1.35,"t":"1.4","v":6.72},{"e":1.4,"t":"1.4","v":7.1},{"e":1.5,"t":"1.4","v":8.18},{"e":1.6,"t":"1.4","v":9.34},{"e":1.7,"t":"1.4","v":10.42},{"e":1.8,"t":"1.4","v":11.83},{"e":1.9,"t":"1.4","v":13.07},{"e":2.0,"t":"1.4","v":13.99},{"e":2.1,"t":"1.4","v":14.07},{"e":2.2,"t":"1.4","v":14.24},{"e":2.3,"t":"1.4","v":13.41},{"e":2.4,"t":"1.4","v":12.33},{"e":2.5,"t":"1.4","v":11.33},{"e":2.6,"t":"1.4","v":10.5},{"e":2.7,"t":"1.4","v":9.84},{"e":2.8,"t":"1.4","v":9.34},{"e":2.9,"t":"1.4","v":9.01},{"e":3.0,"t":"1.4","v":8.71},{"e":3.1,"t":"1.4","v":8.59},{"e":3.2,"t":"1.4","v":8.51},{"e":3.3,"t":"1.4","v":8.46},{"e":3.4,"t":"1.4","v":8.38},{"e":3.5,"t":"1.4","v":8.26},{"e":3.6,"t":"1.4","v":8.15},{"e":3.7,"t":"1.4","v":7.93},{"e":3.8,"t":"1.4","v":7.52},{"e":3.9,"t":"1.4","v":6.85},{"e":4.0,"t":"1.4","v":6.35},{"e":4.1,"t":"1.4","v":6.06},{"e":4.2,"t":"1.4","v":5.99},{"e":4.3,"t":"1.4","v":5.89},{"e":4.4,"t":"1.4","v":5.72},{"e":4.5,"t":"1.4","v":5.61},{"e":4.6,"t":"1.4","v":5.56},{"e":4.7,"t":"1.4","v":5.53},{"e":4.8,"t":"1.4","v":5.49},{"e":4.9,"t":"1.4","v":5.43},{"e":5.0,"t":"1.4","v":5.36},{"e":5.1,"t":"1.4","v":5.39},{"e":5.2,"t":"1.4","v":5.39},{"e":5.3,"t":"1.4","v":5.39},{"e":5.4,"t":"1.4","v":5.33},{"e":5.49,"t":"1.4","v":5.28},
{"e":1.31,"t":"1.65","v":9.26},{"e":1.35,"t":"1.65","v":9.01},{"e":1.4,"t":"1.65","v":9.59},{"e":1.5,"t":"1.65","v":11.3},{"e":1.6,"t":"1.65","v":12.9},{"e":1.7,"t":"1.65","v":14.5},{"e":1.8,"t":"1.65","v":15.9},{"e":1.85,"t":"1.65","v":16.8},{"e":1.9,"t":"1.65","v":17.1},{"e":1.95,"t":"1.65","v":17.7},{"e":2.0,"t":"1.65","v":18.2},{"e":2.1,"t":"1.65","v":18.05},{"e":2.15,"t":"1.65","v":17.8},{"e":2.2,"t":"1.65","v":17.84},{"e":2.3,"t":"1.65","v":17.14},{"e":2.4,"t":"1.65","v":15.73},{"e":2.5,"t":"1.65","v":14.24},{"e":2.6,"t":"1.65","v":12.99},{"e":2.7,"t":"1.65","v":12.08},{"e":2.8,"t":"1.65","v":11.33},{"e":2.9,"t":"1.65","v":10.83},{"e":3.0,"t":"1.65","v":10.42},{"e":3.1,"t":"1.65","v":10.25},{"e":3.2,"t":"1.65","v":10.14},{"e":3.3,"t":"1.65","v":10.04},{"e":3.4,"t":"1.65","v":9.97},{"e":3.5,"t":"1.65","v":9.87},{"e":3.6,"t":"1.65","v":9.72},{"e":3.7,"t":"1.65","v":9.51},{"e":3.8,"t":"1.65","v":9.18},{"e":3.9,"t":"1.65","v":8.55},{"e":4.0,"t":"1.65","v":7.93},{"e":4.1,"t":"1.65","v":7.77},{"e":4.2,"t":"1.65","v":7.72},{"e":4.3,"t":"1.65","v":7.65},{"e":4.4,"t":"1.65","v":7.43},{"e":4.5,"t":"1.65","v":7.27},{"e":4.6,"t":"1.65","v":7.15},{"e":4.7,"t":"1.65","v":7.05},{"e":4.8,"t":"1.65","v":6.99},{"e":4.9,"t":"1.65","v":6.94},{"e":5.0,"t":"1.65","v":6.77},{"e":5.1,"t":"1.65","v":6.85},{"e":5.2,"t":"1.65","v":6.89},{"e":5.3,"t":"1.65","v":6.85},{"e":5.4,"t":"1.65","v":6.77},{"e":5.49,"t":"1.65","v":6.69}
],
"d": [
{"e":1.3,"t":"0","v":-0.031},{"e":1.35,"t":"0","v":-0.01},{"e":1.42,"t":"0","v":-0.021},{"e":1.53,"t":"0","v":-0.013},{"e":1.64,"t":"0","v":-0.019},{"e":1.79,"t":"0","v":-0.016},{"e":2.0,"t":"0","v":-0.0125},{"e":2.23,"t":"0","v":-0.019},{"e":2.44,"t":"0","v":-0.023},{"e":2.59,"t":"0","v":-0.019},{"e":2.74,"t":"0","v":-0.021},{"e":2.88,"t":"0","v":-0.026},{"e":3.06,"t":"0","v":-0.031},{"e":3.25,"t":"0","v":-0.026},{"e":3.43,"t":"0","v":-0.021},{"e":3.54,"t":"0","v":-0.036},{"e":3.63,"t":"0","v":-0.005},{"e":3.7,"t":"0","v":-0.029},{"e":3.76,"t":"0","v":0.0},{"e":3.83,"t":"0","v":-0.042},{"e":3.88,"t":"0","v":-0.031},{"e":3.94,"t":"0","v":0.042},{"e":4.01,"t":"0","v":-0.01},{"e":4.1,"t":"0","v":-0.026},{"e":4.19,"t":"0","v":0.021},{"e":4.27,"t":"0","v":0.047},{"e":4.34,"t":"0","v":0.01},{"e":4.43,"t":"0","v":-0.021},{"e":4.52,"t":"0","v":-0.0625},{"e":4.58,"t":"0","v":-0.085},{"e":4.65,"t":"0","v":-0.0625},{"e":4.74,"t":"0","v":-0.052},{"e":4.83,"t":"0","v":-0.081},{"e":4.92,"t":"0","v":-0.042},{"e":5.03,"t":"0","v":0.01},{"e":5.14,"t":"0","v":0.036},{"e":5.23,"t":"0","v":0.052},{"e":5.31,"t":"0","v":0.057},{"e":5.38,"t":"0","v":0.047},
{"e":1.61,"t":"0.13","v":-0.198},{"e":1.72,"t":"0.13","v":-0.104},{"e":1.86,"t":"0.13","v":-0.0625},{"e":1.93,"t":"0.13","v":-0.031},{"e":1.98,"t":"0.13","v":-0.0625},{"e":2.03,"t":"0.13","v":0.016},{"e":2.12,"t":"0.13","v":0.026},{"e":2.23,"t":"0.13","v":0.042},{"e":2.34,"t":"0.13","v":0.036},{"e":2.44,"t":"0.13","v":0.047},{"e":2.59,"t":"0.13","v":0.052},{"e":2.7,"t":"0.13","v":0.047},{"e":2.88,"t":"0.13","v":0.06},{"e":3.06,"t":"0.13","v":0.083},{"e":3.17,"t":"0.13","v":0.104},{"e":3.25,"t":"0.13","v":0.12},{"e":3.34,"t":"0.13","v":0.161},{"e":3.41,"t":"0.13","v":0.146},{"e":3.47,"t":"0.13","v":0.177},{"e":3.54,"t":"0.13","v":0.198},{"e":3.61,"t":"0.13","v":0.175},{"e":3.68,"t":"0.13","v":0.167},{"e":3.76,"t":"0.13","v":0.179},{"e":3.83,"t":"0.13","v":0.125},{"e":3.94,"t":"0.13","v":0.042},{"e":4.01,"t":"0.13","v":0.0},{"e":4.12,"t":"0.13","v":-0.042},{"e":4.19,"t":"0.13","v":-0.021},{"e":4.3,"t":"0.13","v":-0.083},{"e":4.38,"t":"0.13","v":-0.0625},{"e":4.49,"t":"0.13","v":0.0},{"e":4.6,"t":"0.13","v":-0.0625},{"e":4.71,"t":"0.13","v":-0.073},{"e":4.85,"t":"0.13","v":-0.042},{"e":4.96,"t":"0.13","v":-0.01},{"e":5.07,"t":"0.13","v":-0.083},{"e":5.18,"t":"0.13","v":-0.052},{"e":5.29,"t":"0.13","v":-0.01},{"e":5.38,"t":"0.13","v":0.042},
{"e":1.55,"t":"0.39","v":-0.203},{"e":1.61,"t":"0.39","v":-0.146},{"e":1.72,"t":"0.39","v":-0.094},{"e":1.79,"t":"0.39","v":-0.052},{"e":1.86,"t":"0.39","v":0.01},{"e":1.9,"t":"0.39","v":0.083},{"e":1.95,"t":"0.39","v":0.016},{"e":2.01,"t":"0.39","v":0.177},{"e":2.06,"t":"0.39","v":0.099},{"e":2.15,"t":"0.39","v":0.141},{"e":2.26,"t":"0.39","v":0.1875},{"e":2.37,"t":"0.39","v":0.203},{"e":2.52,"t":"0.39","v":0.229},{"e":2.66,"t":"0.39","v":0.229},{"e":2.81,"t":"0.39","v":0.198},{"e":2.96,"t":"0.39","v":0.219},{"e":3.05,"t":"0.39","v":0.203},{"e":3.14,"t":"0.39","v":0.24},{"e":3.21,"t":"0.39","v":0.3125},{"e":3.36,"t":"0.39","v":0.406},{"e":3.5,"t":"0.39","v":0.443},{"e":3.61,"t":"0.39","v":0.448},{"e":3.67,"t":"0.39","v":0.495},{"e":3.76,"t":"0.39","v":0.448},{"e":3.87,"t":"0.39","v":0.365},{"e":3.94,"t":"0.39","v":0.271},{"e":4.01,"t":"0.39","v":0.229},{"e":4.12,"t":"0.39","v":0.177},{"e":4.27,"t":"0.39","v":0.104},{"e":4.38,"t":"0.39","v":0.151},{"e":4.49,"t":"0.39","v":0.125},{"e":4.56,"t":"0.39","v":0.104},{"e":4.67,"t":"0.39","v":0.177},{"e":4.78,"t":"0.39","v":0.1875},{"e":4.89,"t":"0.39","v":0.208},{"e":5.0,"t":"0.39","v":0.219},{"e":5.14,"t":"0.39","v":0.26},{"e":5.29,"t":"0.39","v":0.292},{"e":5.38,"t":"0.39","v":0.323},
{"e":1.57,"t":"0.64","v":-0.177},{"e":1.68,"t":"0.64","v":-0.052},{"e":1.79,"t":"0.64","v":0.042},{"e":1.9,"t":"0.64","v":0.125},{"e":1.95,"t":"0.64","v":0.094},{"e":2.01,"t":"0.64","v":0.146},{"e":2.08,"t":"0.64","v":0.208},{"e":2.19,"t":"0.64","v":0.271},{"e":2.3,"t":"0.64","v":0.323},{"e":2.37,"t":"0.64","v":0.349},{"e":2.52,"t":"0.64","v":0.354},{"e":2.63,"t":"0.64","v":0.365},{"e":2.74,"t":"0.64","v":0.339},{"e":2.81,"t":"0.64","v":0.307},{"e":2.92,"t":"0.64","v":0.333},{"e":3.03,"t":"0.64","v":0.344},{"e":3.14,"t":"0.64","v":0.375},{"e":3.21,"t":"0.64","v":0.458},{"e":3.36,"t":"0.64","v":0.542},{"e":3.47,"t":"0.64","v":0.583},{"e":3.54,"t":"0.64","v":0.604},{"e":3.61,"t":"0.64","v":0.592},{"e":3.67,"t":"0.64","v":0.625},{"e":3.74,"t":"0.64","v":0.521},{"e":3.83,"t":"0.64","v":0.458},{"e":3.94,"t":"0.64","v":0.3125},{"e":4.05,"t":"0.64","v":0.25},{"e":4.16,"t":"0.64","v":0.208},{"e":4.27,"t":"0.64","v":0.146},{"e":4.38,"t":"0.64","v":0.115},{"e":4.49,"t":"0.64","v":0.104},{"e":4.6,"t":"0.64","v":0.083},{"e":4.71,"t":"0.64","v":0.125},{"e":4.85,"t":"0.64","v":0.167},{"e":4.96,"t":"0.64","v":0.219},{"e":5.07,"t":"0.64","v":0.125},{"e":5.18,"t":"0.64","v":0.208},{"e":5.29,"t":"0.64","v":0.271},{"e":5.38,"t":"0.64","v":0.25},
{"e":1.59,"t":"0.88","v":-0.135},{"e":1.72,"t":"0.88","v":-0.042},{"e":1.82,"t":"0.88","v":0.073},{"e":1.9,"t":"0.88","v":0.146},{"e":1.95,"t":"0.88","v":0.104},{"e":2.01,"t":"0.88","v":0.276},{"e":2.06,"t":"0.88","v":0.1875},{"e":2.15,"t":"0.88","v":0.24},{"e":2.26,"t":"0.88","v":0.3125},{"e":2.37,"t":"0.88","v":0.385},{"e":2.52,"t":"0.88","v":0.417},{"e":2.63,"t":"0.88","v":0.453},{"e":2.74,"t":"0.88","v":0.422},{"e":2.81,"t":"0.88","v":0.401},{"e":2.96,"t":"0.88","v":0.427},{"e":3.1,"t":"0.88","v":0.458},{"e":3.21,"t":"0.88","v":0.552},{"e":3.32,"t":"0.88","v":0.698},{"e":3.43,"t":"0.88","v":0.75},{"e":3.5,"t":"0.88","v":0.729},{"e":3.57,"t":"0.88","v":0.719},{"e":3.65,"t":"0.88","v":0.734},{"e":3.72,"t":"0.88","v":0.724},{"e":3.79,"t":"0.88","v":0.646},{"e":3.87,"t":"0.88","v":0.5},{"e":3.94,"t":"0.88","v":0.396},{"e":4.01,"t":"0.88","v":0.323},{"e":4.12,"t":"0.88","v":0.292},{"e":4.19,"t":"0.88","v":0.354},{"e":4.27,"t":"0.88","v":0.292},{"e":4.38,"t":"0.88","v":0.229},{"e":4.49,"t":"0.88","v":0.208},{"e":4.58,"t":"0.88","v":0.182},{"e":4.67,"t":"0.88","v":0.26},{"e":4.78,"t":"0.88","v":0.281},{"e":4.89,"t":"0.88","v":0.302},{"e":5.0,"t":"0.88","v":0.323},{"e":5.11,"t":"0.88","v":0.333},{"e":5.22,"t":"0.88","v":0.354},{"e":5.32,"t":"0.88","v":0.349},{"e":5.38,"t":"0.88","v":0.323},
{"e":1.84,"t":"1.1","v":-0.203},{"e":1.88,"t":"1.1","v":-0.135},{"e":1.93,"t":"1.1","v":-0.073},{"e":1.97,"t":"1.1","v":0.0},{"e":2.01,"t":"1.1","v":0.125},{"e":2.06,"t":"1.1","v":0.104},{"e":2.12,"t":"1.1","v":0.083},{"e":2.19,"t":"1.1","v":0.208},{"e":2.3,"t":"1.1","v":0.354},{"e":2.41,"t":"1.1","v":0.448},{"e":2.52,"t":"1.1","v":0.495},{"e":2.65,"t":"1.1","v":0.521},{"e":2.74,"t":"1.1","v":0.49},{"e":2.85,"t":"1.1","v":0.458},{"e":2.96,"t":"1.1","v":0.474},{"e":3.06,"t":"1.1","v":0.5},{"e":3.21,"t":"1.1","v":0.594},{"e":3.32,"t":"1.1","v":0.688},{"e":3.43,"t":"1.1","v":0.78},{"e":3.5,"t":"1.1","v":0.75},{"e":3.61,"t":"1.1","v":0.786},{"e":3.68,"t":"1.1","v":0.729},{"e":3.78,"t":"1.1","v":0.688},{"e":3.87,"t":"1.1","v":0.542},{"e":3.96,"t":"1.1","v":0.375},{"e":4.05,"t":"1.1","v":0.208},{"e":4.16,"t":"1.1","v":0.1875},{"e":4.27,"t":"1.1","v":0.125},{"e":4.38,"t":"1.1","v":0.146},{"e":4.49,"t":"1.1","v":0.083},{"e":4.6,"t":"1.1","v":0.104},{"e":4.71,"t":"1.1","v":0.1875},{"e":4.81,"t":"1.1","v":0.219},{"e":4.92,"t":"1.1","v":0.1875},{"e":5.07,"t":"1.1","v":0.125},{"e":5.14,"t":"1.1","v":0.229},{"e":5.25,"t":"1.1","v":0.271},{"e":5.38,"t":"1.1","v":0.26},
{"e":2.1,"t":"1.4","v":-0.203},{"e":2.15,"t":"1.4","v":-0.052},{"e":2.23,"t":"1.4","v":0.156},{"e":2.3,"t":"1.4","v":0.3125},{"e":2.39,"t":"1.4","v":0.417},{"e":2.5,"t":"1.4","v":0.521},{"e":2.63,"t":"1.4","v":0.573},{"e":2.74,"t":"1.4","v":0.521},{"e":2.88,"t":"1.4","v":0.51},{"e":3.03,"t":"1.4","v":0.542},{"e":3.14,"t":"1.4","v":0.604},{"e":3.25,"t":"1.4","v":0.646},{"e":3.36,"t":"1.4","v":0.708},{"e":3.43,"t":"1.4","v":0.78},{"e":3.5,"t":"1.4","v":0.74},{"e":3.61,"t":"1.4","v":0.729},{"e":3.68,"t":"1.4","v":0.75},{"e":3.76,"t":"1.4","v":0.677},{"e":3.83,"t":"1.4","v":0.542},{"e":3.94,"t":"1.4","v":0.3125},{"e":4.01,"t":"1.4","v":0.104},{"e":4.09,"t":"1.4","v":-0.052},{"e":4.19,"t":"1.4","v":0.0},{"e":4.3,"t":"1.4","v":-0.094},{"e":4.38,"t":"1.4","v":-0.073},{"e":4.49,"t":"1.4","v":-0.104},{"e":4.6,"t":"1.4","v":-0.115},{"e":4.71,"t":"1.4","v":-0.073},{"e":4.85,"t":"1.4","v":-0.042},{"e":4.96,"t":"1.4","v":0.0},{"e":5.07,"t":"1.4","v":0.0},{"e":5.14,"t":"1.4","v":0.042},{"e":5.29,"t":"1.4","v":0.104},{"e":5.38,"t":"1.4","v":0.229},
{"e":2.17,"t":"1.65","v":-0.203},{"e":2.23,"t":"1.65","v":-0.052},{"e":2.28,"t":"1.65","v":0.156},{"e":2.34,"t":"1.65","v":0.3125},{"e":2.43,"t":"1.65","v":0.542},{"e":2.52,"t":"1.65","v":0.594},{"e":2.63,"t":"1.65","v":0.63},{"e":2.74,"t":"1.65","v":0.5625},{"e":2.85,"t":"1.65","v":0.521},{"e":2.96,"t":"1.65","v":0.531},{"e":3.1,"t":"1.65","v":0.5625},{"e":3.21,"t":"1.65","v":0.594},{"e":3.32,"t":"1.65","v":0.646},{"e":3.43,"t":"1.65","v":0.76},{"e":3.5,"t":"1.65","v":0.677},{"e":3.61,"t":"1.65","v":0.646},{"e":3.72,"t":"1.65","v":0.604},{"e":3.79,"t":"1.65","v":0.542},{"e":3.9,"t":"1.65","v":0.3125},{"e":3.98,"t":"1.65","v":0.104},{"e":4.05,"t":"1.65","v":-0.094},{"e":4.16,"t":"1.65","v":-0.156},{"e":4.27,"t":"1.65","v":-0.115},{"e":4.34,"t":"1.65","v":-0.146},{"e":4.45,"t":"1.65","v":-0.208},{"e":4.52,"t":"1.65","v":-0.271},{"e":4.63,"t":"1.65","v":-0.177},{"e":4.71,"t":"1.65","v":-0.271},{"e":4.78,"t":"1.65","v":-0.198},{"e":4.89,"t":"1.65","v":-0.0625},{"e":5.0,"t":"1.65","v":-0.104},{"e":5.07,"t":"1.65","v":-0.083},{"e":5.14,"t":"1.65","v":0.0},{"e":5.25,"t":"1.65","v":0.042},{"e":5.38,"t":"1.65","v":0.0625}
]
},
"concat": [
{
  "width": 385, "height": 385,
  "title": {"text": "a)", "anchor": "start", "frame": "group", "offset": 0, "dx": -81, "dy": 62, "fontSize": 28, "fontWeight": "bold", "baseline": "alphabetic"},
  "layer": [
    {"data": {"name": "a"}, "mark": {"type": "line", "strokeWidth": 1.8, "clip": true, "interpolate": "monotone"},
     "encoding": {
       "x": {"field": "e", "type": "quantitative", "scale": {"domain": [1.2945, 5.493], "nice": false, "zero": false},
             "axis": {"values": [1.3,1.4,1.5,1.6,1.7,1.8,1.9,2,2.1,2.2,2.3,2.4,2.5,2.6,2.7,2.8,2.9,3,3.1,3.2,3.3,3.4,3.5,3.6,3.7,3.8,3.9,4,4.1,4.2,4.3,4.4,4.5,4.6,4.7,4.8,4.9,5,5.1,5.2,5.3,5.4], "labels": false, "title": null,
                      "tickSize": {"condition": {"test": "abs(datum.value - round(datum.value)) < 0.01", "value": -10}, "value": -5}}},
       "y": {"field": "v", "type": "quantitative", "scale": {"domain": [-0.0095, 0.2708], "nice": false, "zero": false},
             "axis": {"values": [0,0.01,0.02,0.03,0.04,0.05,0.06,0.07,0.08,0.09,0.1,0.11,0.12,0.13,0.14,0.15,0.16,0.17,0.18,0.19,0.2,0.21,0.22,0.23,0.24,0.25,0.26,0.27],
                      "labelExpr": "abs(datum.value*20 - round(datum.value*20)) < 0.01 ? format(datum.value, '.2f') : ''",
                      "labelFontSize": {"condition": {"test": "abs(datum.value*20 - round(datum.value*20)) < 0.01", "value": 16}, "value": 0},
                      "tickSize": {"condition": {"test": "abs(datum.value*20 - round(datum.value*20)) < 0.01", "value": -8}, "value": -5},
                      "labelPadding": 16.7, "title": "Δℛ/ℛ - s", "titleFont": "DejaVu Serif", "titleFontWeight": "bold", "titleFontSize": 20, "titleX": -62, "titleY": 192.5, "titleAngle": 270, "titleBaseline": "middle", "titleAlign": "center"}},
       "color": {"field": "t", "type": "nominal", "scale": {"domain": ["0","0.13","0.39","0.64","0.88","1.1","1.4","1.65"], "range": ["#000000","#8030e0","#2050f0","#10e8f8","#25dd55","#5cb025","#ffa500","#ff1010"]}, "legend": null}
     }},
    {"data": {"values": [{}]},
     "mark": {"type": "text", "text": "Au/Al₂O₃", "align": "left", "baseline": "alphabetic", "fontSize": 34, "font": "Liberation Sans", "color": "#111"},
     "encoding": {
       "x": {"datum": 3.672, "type": "quantitative", "scale": {"domain": [1.2945, 5.493], "nice": false, "zero": false}, "axis": null},
       "y": {"datum": 0.2366, "type": "quantitative", "scale": {"domain": [-0.0095, 0.2708], "nice": false, "zero": false}, "axis": null}
     }}
  ],
  "resolve": {"axis": {"x": "independent", "y": "independent"}}
},
{
  "width": 375, "height": 385,
  "view": {"stroke": null},
  "title": {"text": "b)", "anchor": "start", "frame": "group", "offset": 0, "dx": -61, "dy": 60.5, "fontSize": 28, "fontWeight": "bold", "baseline": "alphabetic"},
  "layer": [
    {"data": {"name": "b"}, "mark": {"type": "line", "strokeWidth": 1.8, "clip": true, "interpolate": "monotone"},
     "encoding": {
       "x": {"field": "e", "type": "quantitative", "scale": {"domain": [1.30, 5.425], "nice": false, "zero": false},
             "axis": {"values": [1.3,1.4,1.5,1.6,1.7,1.8,1.9,2,2.1,2.2,2.3,2.4,2.5,2.6,2.7,2.8,2.9,3,3.1,3.2,3.3,3.4,3.5,3.6,3.7,3.8,3.9,4,4.1,4.2,4.3,4.4,4.5,4.6,4.7,4.8,4.9,5,5.1,5.2,5.3,5.4], "labels": false, "title": null,
                      "domain": true, "domainColor": "#222", "domainWidth": 1.5,
                      "tickSize": {"condition": {"test": "abs(datum.value*2 - round(datum.value*2)) < 0.01", "value": -8}, "value": -4}}},
       "y": {"field": "v", "type": "quantitative", "scale": {"domain": [-0.0107, 0.7467], "nice": false, "zero": false},
             "axis": {"values": [0,0.02,0.04,0.06,0.08,0.1,0.12,0.14,0.16,0.18,0.2,0.22,0.24,0.26,0.28,0.3,0.32,0.34,0.36,0.38,0.4,0.42,0.44,0.46,0.48,0.5,0.52,0.54,0.56,0.58,0.6,0.62,0.64,0.66,0.68,0.7,0.72,0.74],
                      "labelExpr": "abs(datum.value*5 - round(datum.value*5)) < 0.01 ? format(datum.value, '.1f') : ''",
                      "labelFontSize": {"condition": {"test": "abs(datum.value*5 - round(datum.value*5)) < 0.01", "value": 17.5}, "value": 0},
                      "tickSize": {"condition": {"test": "abs(datum.value*10 - round(datum.value*10)) < 0.01", "value": -9}, "value": -5},
                      "domain": true, "domainColor": "#222", "domainWidth": 1.5,
                      "labelPadding": 16.7, "title": "Δℛ/ℛ - p", "titleFont": "DejaVu Serif", "titleFontWeight": "bold", "titleFontSize": 20, "titleX": -52, "titleY": 194, "titleAngle": 270, "titleBaseline": "middle", "titleAlign": "center"}},
       "color": {"field": "t", "type": "nominal", "scale": {"domain": ["0","0.13","0.39","0.64","0.88","1.1","1.4","1.65"], "range": ["#000000","#8030e0","#2050f0","#10e8f8","#25dd55","#5cb025","#ffa500","#ff1010"]}, "legend": null}
     }},
    {"data": {"values": [{}]},
     "mark": {"type": "rule", "color": "#222", "strokeWidth": 1.5},
     "encoding": {
       "y": {"datum": 0.7467, "type": "quantitative", "scale": {"domain": [-0.0107, 0.7467], "nice": false, "zero": false}, "axis": null}
     }}
  ],
  "resolve": {"axis": {"x": "independent", "y": "independent"}}
},
{
  "width": 385, "height": 385,
  "title": {"text": "c)", "anchor": "start", "frame": "group", "offset": 0, "dx": -64.3, "dy": 64, "fontSize": 28, "fontWeight": "bold", "baseline": "alphabetic"},
  "layer": [
    {"data": {"name": "c"}, "mark": {"type": "line", "strokeWidth": 1.8, "clip": true, "interpolate": "monotone"},
     "encoding": {
       "x": {"field": "e", "type": "quantitative", "scale": {"domain": [1.2822, 5.4885], "nice": false, "zero": false},
             "axis": {"values": [1.3,1.4,1.5,1.6,1.7,1.8,1.9,2,2.1,2.2,2.3,2.4,2.5,2.6,2.7,2.8,2.9,3,3.1,3.2,3.3,3.4,3.5,3.6,3.7,3.8,3.9,4,4.1,4.2,4.3,4.4,4.5,4.6,4.7,4.8,4.9,5,5.1,5.2,5.3,5.4],
                      "labelExpr": "abs(datum.value - round(datum.value)) < 0.01 ? format(datum.value, 'd') : ''",
                      "labelFontSize": {"condition": {"test": "abs(datum.value - round(datum.value)) < 0.01", "value": 16}, "value": 0},
                      "tickSize": {"condition": {"test": "abs(datum.value*2 - round(datum.value*2)) < 0.01", "value": -10}, "value": -5},
                      "labelPadding": 19.5, "title": "Photon energy (eV)", "titleFontSize": 25.5, "titleX": 207, "titleY": 50, "titleBaseline": "alphabetic", "titleAlign": "center"}},
       "y": {"field": "v", "type": "quantitative", "scale": {"domain": [-0.187, 19.0], "nice": false, "zero": false},
             "axis": {"values": [0,1,2,3,4,5,6,7,8,9,10,11,12,13,14,15,16,17,18],
                      "labelExpr": "datum.value % 5 == 0 ? format(datum.value, 'd') : ''",
                      "labelFontSize": {"condition": {"test": "datum.value % 5 == 0", "value": 16.5}, "value": 0},
                      "tickSize": {"condition": {"test": "datum.value % 5 == 0", "value": -9}, "value": -5},
                      "labelPadding": 8, "title": "Im(γ) (nm)", "titleFontSize": 23, "titleX": -43.5, "titleY": 197, "titleAngle": 270, "titleBaseline": "middle", "titleAlign": "center"}},
       "color": {"field": "t", "type": "nominal", "scale": {"domain": ["0","0.13","0.39","0.64","0.88","1.1","1.4","1.65"], "range": ["#000000","#8030e0","#2050f0","#10e8f8","#25dd55","#5cb025","#ffa500","#ff1010"]},
                 "legend": {"orient": "none", "legendX": 232, "legendY": 24, "title": "Film thickness (nm)", "titleFontSize": 15, "titleFontWeight": "normal", "titleFont": "Liberation Sans", "titleColor": "#111", "titlePadding": 1, "labelFontSize": 15, "labelFont": "Liberation Sans", "labelColor": "#111", "symbolType": "M-1.4,0H7.4", "symbolSize": 100, "symbolStrokeWidth": 2.2, "labelOffset": 38, "rowPadding": 1, "padding": 0}}
     }}
  ]
},
{
  "width": 375, "height": 385,
  "view": {"stroke": null},
  "title": {"text": "d)", "anchor": "start", "frame": "group", "offset": 0, "dx": -63.7, "dy": 73, "fontSize": 28, "fontWeight": "bold", "baseline": "alphabetic"},
  "layer": [
    {"data": {"name": "d"}, "mark": {"type": "line", "strokeWidth": 1.8, "clip": true},
     "encoding": {
       "x": {"field": "e", "type": "quantitative", "scale": {"domain": [1.2814, 5.383], "nice": false, "zero": false},
             "axis": {"values": [1.3,1.4,1.5,1.6,1.7,1.8,1.9,2,2.1,2.2,2.3,2.4,2.5,2.6,2.7,2.8,2.9,3,3.1,3.2,3.3,3.4,3.5,3.6,3.7,3.8,3.9,4,4.1,4.2,4.3,4.4,4.5,4.6,4.7,4.8,4.9,5,5.1,5.2,5.3],
                      "labelExpr": "abs(datum.value - round(datum.value)) < 0.01 ? format(datum.value, 'd') : ''",
                      "labelFontSize": {"condition": {"test": "abs(datum.value - round(datum.value)) < 0.01", "value": 16.5}, "value": 0},
                      "tickSize": {"condition": {"test": "abs(datum.value*2 - round(datum.value*2)) < 0.01", "value": -10}, "value": -5},
                      "domain": true, "domainColor": "#222", "domainWidth": 1.5,
                      "labelPadding": 19, "title": "Photon energy (eV)", "titleFontSize": 25.5, "titleX": 208, "titleY": 50, "titleBaseline": "alphabetic", "titleAlign": "center"}},
       "y": {"field": "v", "type": "quantitative", "scale": {"domain": [-0.2, 1.0], "nice": false, "zero": false},
             "axis": {"values": [-0.2,-0.18,-0.16,-0.14,-0.12,-0.1,-0.08,-0.06,-0.04,-0.02,0,0.02,0.04,0.06,0.08,0.1,0.12,0.14,0.16,0.18,0.2,0.22,0.24,0.26,0.28,0.3,0.32,0.34,0.36,0.38,0.4,0.42,0.44,0.46,0.48,0.5,0.52,0.54,0.56,0.58,0.6,0.62,0.64,0.66,0.68,0.7,0.72,0.74,0.76,0.78,0.8,0.82,0.84,0.86,0.88,0.9,0.92,0.94,0.96,0.98,1.0],
                      "labelExpr": "abs(datum.value*5 - round(datum.value*5)) < 0.01 ? replace(format(datum.value, '.1f'), '−', '-') : ''",
                      "labelFontSize": {"condition": {"test": "abs(datum.value*5 - round(datum.value*5)) < 0.01", "value": 17.5}, "value": 0},
                      "tickSize": {"condition": {"test": "abs(datum.value*10 - round(datum.value*10)) < 0.01", "value": -9}, "value": -5},
                      "domain": true, "domainColor": "#222", "domainWidth": 1.5,
                      "labelPadding": 12.7, "title": "Im(β) (nm)", "titleFontSize": 23, "titleX": -55, "titleY": 188, "titleAngle": 270, "titleBaseline": "middle", "titleAlign": "center"}},
       "color": {"field": "t", "type": "nominal", "scale": {"domain": ["0","0.13","0.39","0.64","0.88","1.1","1.4","1.65"], "range": ["#000000","#8030e0","#2050f0","#10e8f8","#25dd55","#5cb025","#ffa500","#ff1010"]}, "legend": null}
     }},
    {"data": {"values": [{}]},
     "mark": {"type": "rule", "color": "#222", "strokeWidth": 1.5},
     "encoding": {
       "y": {"datum": 1.0, "type": "quantitative", "scale": {"domain": [-0.2, 1.0], "nice": false, "zero": false}, "axis": null}
     }}
  ],
  "resolve": {"axis": {"x": "independent", "y": "independent"}}
}
],
"columns": 2,
"spacing": {"row": 33, "column": 90},
"bounds": "flush",
"resolve": {"scale": {"color": "independent"}}
}
